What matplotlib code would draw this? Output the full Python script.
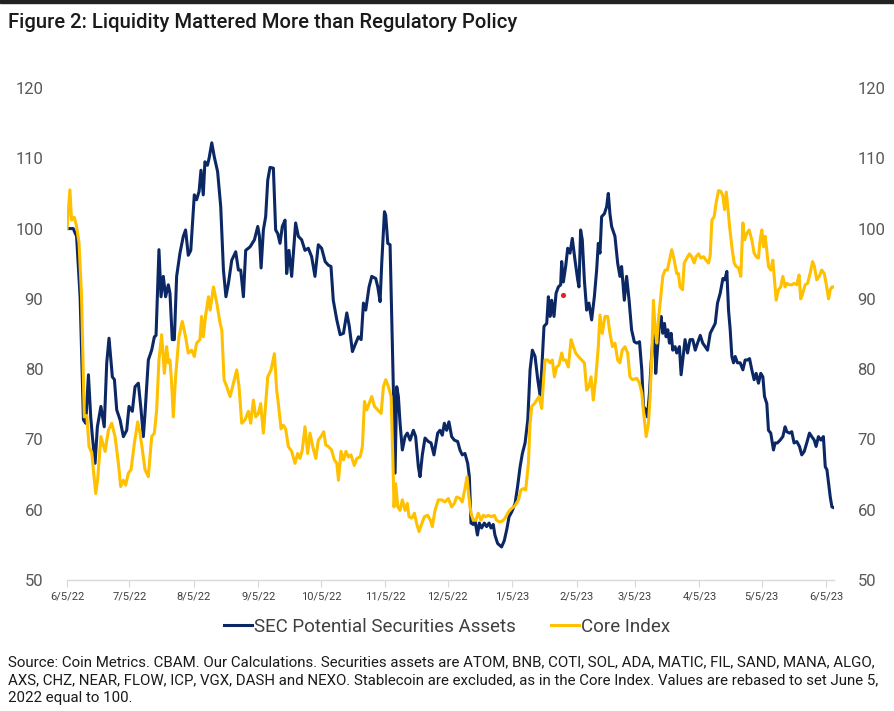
import matplotlib
matplotlib.use("Agg")
import matplotlib.pyplot as plt
import matplotlib.dates as mdates
from matplotlib.patches import Rectangle
from matplotlib.lines import Line2D
import numpy as np
from datetime import datetime

# ---------------- data (day offsets from 2022-06-05, index values) ----------------
start_date = datetime(2022, 6, 5)

sec_days = [0, 3, 4.6, 6.3, 7.9, 9.0, 10.3, 11.4, 12.2, 13.5, 14.6, 16.3, 17.9, 19.1, 20.2, 21.8, 22.8, 23.9,
            25.5, 27.1, 28.7, 29.8, 31.4, 32.7, 34.3, 35.6, 36.7, 37.5, 39.1, 40.7, 42.0, 42.8, 44.2, 45.2,
            46.3, 47.4, 48.7, 49.5, 50.6, 51.6, 52.7, 54.3, 55.9, 57.0, 58.3, 59.5, 61.2, 62.3, 63.5, 64.4,
            65.5, 66.3, 67.5, 68.3, 69.6, 70.8, 72.4, 73.9, 75.2, 76.4, 77.6, 79.2, 81.1, 82.4, 83.5, 84.8,
            85.9, 88.0, 90.1, 91.7, 92.5, 93.3, 94.4, 95.5, 96.5, 97.6, 99.2, 100.3, 101.3, 102.4, 103.5,
            104.8, 105.6, 106.7, 108.0, 109.9, 111.2, 112.8, 114.4, 116.0, 117.6, 119.2, 120.8, 122.4, 124.1,
            125.6, 126.9, 128.0, 129.7, 131.3, 132.9, 134.5, 135.7, 137.2, 138.8, 140.1, 141.4, 142.5, 143.6,
            145.2, 146.5, 148.4, 149.4, 150.5, 151.3, 152.6, 153.2, 154.2, 155.3, 156.1, 156.9, 157.7, 158.5,
            159.3, 160.1, 161.2, 162.5, 163.6, 164.9, 166.5, 167.6, 168.9, 169.7, 170.8, 172.1, 173.7, 175.0,
            176.4, 178.2, 179.3, 180.4, 181.4, 182.5, 183.6, 184.9, 186.2, 187.8, 188.9, 190.0, 191.3, 192.6,
            193.4, 194.2, 195.3, 196.1, 197.3, 198.2, 199.3, 200.6, 201.7, 202.9, 203.8, 204.9, 205.7, 207.0,
            208.9, 210.2, 211.4, 212.5, 213.8, 215.4, 216.6, 217.8, 218.9, 220.2, 221.5, 222.6, 223.7, 225.0,
            226.3, 227.4, 228.2, 229.3, 230.6, 231.4, 232.2, 233.0, 234.1, 235.1, 236.2, 237.3, 237.8, 238.6,
            239.7, 240.7, 241.8, 242.9, 244.2, 245.5, 246.1, 246.9, 247.7, 248.7, 249.8, 250.9, 252.2, 253.5,
            254.6, 255.4, 256.2, 257.0, 258.3, 259.4, 260.2, 261.0, 261.8, 263.4, 264.7, 265.8, 266.6, 267.9,
            269.0, 270.2, 271.4, 272.7, 273.9, 275.2, 276.3, 277.1, 278.2, 279.0, 280.0, 280.8, 281.6, 282.4,
            283.0, 283.8, 284.8, 285.6, 286.4, 287.2, 288.0, 288.8, 289.6, 290.4, 291.2, 292.3, 293.1, 294.4,
            295.2, 296.0, 297.1, 298.3, 299.5, 300.8, 302.0, 303.1, 304.4, 305.6, 306.8, 307.9, 309.2, 310.4,
            311.6, 312.7, 314.0, 315.3, 316.2, 317.2, 318.0, 318.8, 319.6, 320.4, 321.2, 322.3, 323.6, 324.9,
            326.0, 327.1, 328.1, 329.2, 330.3, 331.3, 332.4, 333.5, 334.5, 335.3, 336.4, 337.2, 338.3, 339.6,
            340.4, 341.5, 342.8, 344.1, 345.2, 346.0, 347.3, 348.4, 349.5, 350.8, 352.1, 353.2, 354.4, 355.6,
            356.9, 358.0, 359.2, 360.1, 361.2, 362.4, 363.6, 364.5, 365.3, 366.1, 366.9, 367.7, 368.5]
sec_values = [100, 100, 98.9, 90.3, 72.8, 72.3, 79.2, 73.2, 70.4, 66.6, 71.8, 74.7, 71.8, 80.9, 84.4, 78.9, 78.5, 74.2,
              72.8, 70.4, 71.3, 74.7, 74.0, 77.5, 78.0, 74.2, 70.4, 73.7, 81.3, 82.7, 84.6, 84.8, 97.0, 90.3,
              93.2, 90.3, 92.0, 90.8, 84.2, 84.2, 93.2, 96.5, 98.9, 99.8, 96.2, 96.9, 104.8, 104.1, 105.3, 108.3,
              104.8, 109.5, 109.0, 110.0, 112.2, 110.2, 108.1, 103.1, 94.1, 90.3, 92.2, 95.5, 96.7, 94.1, 94.1, 90.3,
              96.9, 97.4, 98.4, 100.3, 98.9, 94.4, 99.8, 101.7, 106.9, 108.7, 108.6, 99.8, 99.3, 97.9, 100.3,
              101.2, 93.6, 96.9, 93.2, 100.8, 98.9, 98.4, 96.9, 97.2, 96.0, 93.2, 97.7, 97.2, 95.3,
              94.8, 94.6, 89.8, 87.0, 84.9, 85.1, 88.0, 86.1, 82.5, 83.7, 84.6, 84.2, 89.4, 88.4,
              91.7, 93.2, 92.9, 91.7, 89.6, 95.1, 102.4, 101.9, 97.9, 97.7, 87.5, 77.0, 65.2, 77.5,
              76.1, 72.3, 68.5, 70.4, 70.9, 69.9, 71.3, 70.4, 66.1, 64.7, 67.8, 70.2, 69.7, 69.5,
              67.8, 70.9, 71.3, 70.6, 72.3, 71.3, 72.5, 70.4, 69.9, 69.7, 68.5, 67.8, 68.0, 66.6,
              64.7, 58.1, 57.9, 58.5, 56.4, 58.1, 57.4, 58.1, 57.6, 58.1, 57.4, 57.9, 56.4, 55.2,
              54.7, 55.6, 57.2, 59.0, 59.7, 60.9, 63.3, 66.1, 68.0, 69.5, 72.8, 79.9, 82.7, 81.8,
              78.5, 76.3, 79.9, 86.1, 86.5, 90.3, 87.5, 89.8, 87.5, 90.8, 91.7, 92.0, 95.3, 92.4,
              94.6, 97.2, 96.5, 98.6, 95.5, 92.7, 91.7, 99.8, 98.4, 92.7, 88.4, 89.4, 87.0, 90.3,
              94.1, 97.9, 96.5, 101.7, 102.1, 103.1, 105.0, 102.1, 100.3, 98.9, 95.1, 93.2, 94.6, 89.8,
              93.2, 89.8, 85.6, 83.9, 83.7, 83.9, 79.9, 74.7, 74.2, 73.2, 76.6, 80.9, 84.2, 85.6,
              79.4, 82.7, 86.5, 87.5, 85.1, 86.5, 84.6, 85.6, 83.7, 85.1, 82.7, 83.2, 82.3, 83.2,
              79.2, 81.3, 84.2, 82.3, 84.2, 84.2, 82.7, 83.7, 84.8, 83.7, 83.2, 82.7, 85.1, 85.8,
              86.5, 89.4, 90.8, 92.9, 92.7, 93.9, 88.4, 85.6, 81.8, 80.9, 81.8, 80.9, 80.9, 79.9,
              81.3, 81.3, 81.5, 79.9, 78.5, 79.4, 78.0, 79.4, 78.9, 76.1, 75.1, 71.3, 70.9, 68.5,
              69.5, 69.5, 69.9, 70.4, 71.8, 71.1, 70.9, 71.1, 69.5, 69.7, 69.0, 67.8, 68.3, 69.5,
              70.9, 70.4, 69.9, 69.0, 70.4, 69.9, 70.4, 66.1, 65.7, 63.7, 61.8, 60.4, 60.3]

core_days = [0, 1.4, 2.2, 3.5, 4.6, 5.8, 7.0, 8.3, 9.5, 10.6, 11.9, 13.8, 14.7, 16.3, 18.3, 19.9, 21.5, 23.1,
             24.7, 25.8, 27.1, 28.2, 29.5, 30.8, 32.4, 34.0, 35.1, 36.2, 37.5, 39.1, 40.7, 42.0, 43.1, 44.2,
             45.5, 46.8, 47.9, 48.7, 49.5, 50.3, 51.1, 52.2, 53.8, 55.4, 57.0, 58.3, 59.9, 61.2, 62.3, 63.9,
             64.7, 65.5, 66.7, 68.0, 68.8, 70.4, 72.0, 73.6, 74.4, 75.5, 76.8, 78.4, 80.0, 81.6, 82.7, 84.0,
             85.6, 87.2, 88.3, 89.6, 90.7, 92.0, 93.1, 94.4, 95.5, 96.5, 98.1, 99.7, 100.8, 101.6, 102.9,
             104.0, 105.1, 106.4, 108.0, 109.6, 110.9, 112.0, 113.1, 114.4, 115.7, 116.8, 118.1, 119.6, 120.8,
             122.1, 123.4, 124.4, 125.6, 127.2, 128.5, 129.7, 130.5, 131.7, 132.9, 134.1, 135.3, 136.5, 138.1,
             139.3, 140.9, 142.0, 143.0, 144.1, 145.2, 146.5, 147.8, 149.4, 151.0, 152.1, 153.2, 154.5, 155.8,
             156.7, 157.2, 158.0, 159.0, 160.1, 161.2, 162.5, 163.6, 164.4, 165.7, 167.0, 168.1, 169.2, 170.5,
             171.8, 173.4, 174.7, 175.6, 176.9, 178.5, 180.1, 181.7, 183.3, 184.9, 186.2, 187.3, 188.9, 190.0,
             191.3, 192.3, 193.2, 194.2, 195.3, 196.5, 197.7, 199.0, 200.1, 201.3, 202.5, 204.1, 205.4, 206.5,
             207.7, 208.9, 210.6, 212.2, 213.8, 215.4, 217.0, 218.2, 219.4, 220.5, 221.8, 222.6, 223.4, 224.7,
             225.8, 226.9, 228.2, 229.1, 229.8, 231.1, 232.2, 233.3, 234.3, 235.4, 236.5, 237.8, 238.6, 239.7,
             241.0, 242.3, 243.4, 244.5, 245.8, 247.4, 248.7, 249.8, 250.9, 251.9, 253.0, 254.1, 255.4, 256.2,
             257.3, 258.6, 259.9, 261.0, 262.2, 263.4, 264.7, 265.8, 266.9, 268.2, 269.5, 270.6, 271.8, 273.9,
             275.2, 276.3, 277.4, 278.4, 279.5, 280.3, 281.1, 281.9, 282.7, 283.5, 284.3, 285.4, 286.4, 287.5,
             288.6, 289.6, 290.7, 291.9, 293.1, 293.9, 294.7, 295.9, 296.7, 298.0, 299.2, 300.3, 301.5, 302.4,
             303.6, 304.7, 306.0, 307.2, 308.4, 309.2, 310.0, 311.1, 312.0, 313.2, 314.3, 315.3, 316.1, 316.9,
             317.7, 318.5, 319.6, 320.7, 321.7, 322.8, 323.9, 324.9, 325.7, 326.8, 327.9, 329.2, 330.3, 331.3,
             332.4, 333.2, 334.0, 334.8, 335.6, 336.4, 337.2, 338.3, 339.3, 340.1, 340.9, 342.0, 343.1, 344.1,
             345.2, 346.0, 347.3, 348.4, 349.5, 350.8, 351.9, 352.7, 353.7, 354.8, 356.0, 357.2, 358.4, 359.3,
             360.4, 361.6, 362.8, 364.0, 364.9, 366.1, 366.9, 367.7, 368.5]
core_values = [100, 105.5, 101.2, 101.6, 100.3, 97.9, 90.3, 73.2, 73.4, 69.0, 68.1, 62.3, 64.2, 70.4, 68.3, 71.3, 72.3, 70.4,
               66.6, 63.3, 64.2, 63.5, 65.2, 65.7, 69.5, 72.5, 70.9, 68.6, 65.7, 64.7, 70.4, 70.9, 74.2, 81.3,
               84.9, 79.4, 83.2, 80.9, 81.3, 78.0, 73.2, 78.9, 84.6, 86.8, 84.6, 82.3, 82.7, 81.8, 83.7, 84.2,
               87.5, 84.6, 87.8, 90.3, 88.4, 91.7, 89.4, 86.5, 85.6, 78.5, 77.5, 76.1, 78.0, 79.9, 77.5, 72.3,
               72.8, 74.0, 72.3, 75.6, 73.2, 73.7, 75.1, 70.9, 75.1, 78.9, 79.9, 82.2, 77.0, 75.1, 71.5,
               72.0, 71.5, 69.0, 68.3, 66.6, 68.0, 67.3, 68.5, 71.8, 68.0, 70.9, 69.0, 67.3, 69.9,
               70.4, 71.1, 69.2, 69.0, 68.5, 67.1, 66.6, 64.2, 68.3, 67.1, 68.3, 67.5, 67.8, 66.3,
               67.3, 67.5, 69.0, 75.4, 74.2, 75.1, 76.1, 74.7, 74.2, 73.7, 77.5, 78.5, 77.5, 76.1,
               66.6, 60.4, 63.7, 60.4, 59.9, 61.4, 59.9, 60.9, 59.0, 58.8, 59.5, 58.0, 56.9, 58.0,
               59.0, 59.2, 58.5, 57.6, 59.9, 61.4, 61.4, 61.1, 61.6, 60.4, 60.9, 61.8, 61.6, 61.1,
               63.0, 64.7, 61.8, 59.5, 58.5, 58.5, 59.5, 58.5, 59.2, 59.0, 59.2, 59.0, 59.2, 58.5,
               58.3, 58.3, 58.8, 59.7, 60.2, 60.6, 61.4, 62.8, 63.0, 62.8, 66.6, 72.3, 74.7, 75.1,
               75.6, 76.1, 74.4, 78.5, 81.3, 81.3, 80.9, 81.3, 78.9, 80.3, 80.6, 82.3, 81.3, 81.3,
               80.3, 84.2, 83.2, 82.3, 81.8, 81.3, 80.9, 77.0, 77.5, 78.9, 75.6, 78.5, 83.2, 87.7,
               85.1, 87.5, 87.5, 85.1, 83.2, 83.7, 81.3, 80.9, 82.7, 83.2, 82.3, 78.9, 78.5, 78.7,
               78.0, 76.6, 73.2, 70.4, 72.3, 76.1, 81.8, 89.8, 85.6, 83.7, 87.0, 90.3, 93.2, 94.1,
               94.1, 95.5, 97.0, 95.5, 93.6, 93.6, 91.7, 91.3, 95.1, 95.8, 96.4, 96.0, 95.1, 96.0,
               96.4, 95.8, 96.0, 95.5, 95.1, 96.2, 101.2, 101.7, 103.6, 105.4, 105.3, 104.6, 102.7, 105.2,
               102.9, 100.3, 97.4, 95.1, 94.6, 94.4, 93.2, 100.8, 98.4, 99.3, 99.8, 98.4, 96.5, 96.0,
               95.8, 98.4, 99.8, 97.4, 98.9, 96.9, 94.6, 94.1, 95.5, 92.7, 89.8, 91.3, 91.7, 93.2,
               91.7, 92.2, 92.0, 92.0, 92.2, 92.0, 93.4, 90.0, 90.8, 92.0, 92.2, 93.6, 95.3, 94.6,
               92.7, 93.2, 94.1, 93.6, 92.2, 90.0, 91.3, 91.7, 91.7]

marker_day = [238.6]
marker_value = [90.6]

series_labels = ["SEC Potential Securities Assets", "Core Index"]
y_ticks = [50, 60, 70, 80, 90, 100, 110, 120]
x_tick_dates = [datetime(2022, m, 5) for m in range(6, 13)] + [datetime(2023, m, 5) for m in range(1, 7)]

title_text = "Figure 2: Liquidity Mattered More than Regulatory Policy"
source_lines = [
    "Source: Coin Metrics. CBAM. Our Calculations. Securities assets are ATOM, BNB, COTI, SOL, ADA, MATIC, FIL, SAND, MANA, ALGO,",
    "AXS, CHZ, NEAR, FLOW, ICP, VGX, DASH and NEXO. Stablecoin are excluded, as in the Core Index. Values are rebased to set June 5,",
    "2022 equal to 100.",
]

# ---------------- style ----------------
NAVY = "#0B2865"
GOLD = "#FFC000"
LABEL = "#595959"
plt.rcParams["font.family"] = ["Roboto", "DejaVu Sans"]

W, H = 894, 711
fig = plt.figure(figsize=(W / 100, H / 100), dpi=100)
fig.patch.set_facecolor("white")

ax_l, ax_r, ax_t, ax_b = 67, 834, 88, 580
ax = fig.add_axes([ax_l / W, 1 - ax_b / H, (ax_r - ax_l) / W, (ax_b - ax_t) / H])

base = mdates.date2num(start_date)
sx = base + np.array(sec_days)
cx = base + np.array(core_days)

ax.plot(sx, sec_values, color=NAVY, lw=2.2, solid_joinstyle="round", zorder=3)
ax.plot(cx, core_values, color=GOLD, lw=2.2, solid_joinstyle="round", zorder=4)
ax.scatter(base + np.array(marker_day), marker_value, s=14, color="#E8202A", zorder=5, linewidths=0)

ax.set_ylim(50, 120)
ax.set_yticks(y_ticks)
ax.set_xlim(base, base + 368.7)
ax.set_xticks([mdates.date2num(d) for d in x_tick_dates])
ax.set_xticklabels([f"{d.month}/{d.day}/{d.year % 100}" for d in x_tick_dates])

for s in ["top", "left", "right"]:
    ax.spines[s].set_visible(False)
ax.spines["bottom"].set_color("#D9D9D9")
ax.spines["bottom"].set_linewidth(1.0)

ax.tick_params(axis="y", length=0, labelsize=12, labelcolor=LABEL, pad=17,
               labelleft=True, labelright=True)
ax.tick_params(axis="x", length=5, color="#D9D9D9", labelsize=8, labelcolor="#404040", pad=3)

# legend
handles = [Line2D([0], [0], color=NAVY, lw=2.2), Line2D([0], [0], color=GOLD, lw=2.2)]
fig.legend(handles, series_labels, loc="center", bbox_to_anchor=(0.5, 1 - 627 / H),
           ncol=2, frameon=False, fontsize=13.5, labelcolor="#404040",
           handlelength=1.5, handletextpad=0.1, columnspacing=1.9)

# title
fig.text(8 / W, 1 - 22 / H, title_text, fontsize=14.6, color="#1a1a1a", va="center", ha="left",
         fontweight="medium")

# source
for i, line in enumerate(source_lines):
    fig.text(8 / W, 1 - (662 + i * 18) / H, line, fontsize=10.8, color="#1a1a1a", va="center", ha="left")

# top border
fig.patches.append(Rectangle((0, 1 - 3 / H), 1, 3 / H, transform=fig.transFigure,
                             color="#222222", zorder=10))

fig.savefig("out.png", dpi=100)
